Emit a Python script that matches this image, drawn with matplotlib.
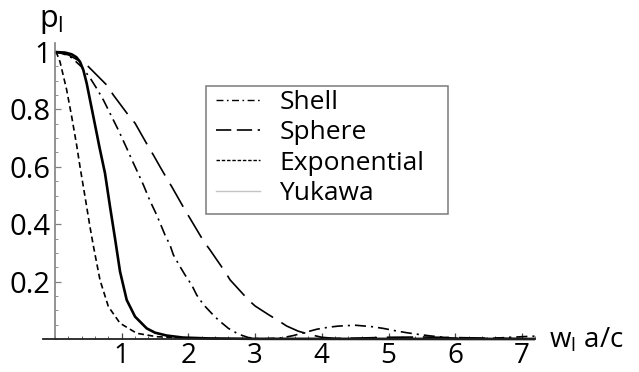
import matplotlib
matplotlib.use("Agg")
import matplotlib.pyplot as plt
from matplotlib.lines import Line2D
from matplotlib.patches import Rectangle
from matplotlib.ticker import FixedLocator, MultipleLocator

plt.rcParams['font.family'] = ['Open Sans', 'DejaVu Sans']
plt.rcParams['mathtext.fontset'] = 'custom'
plt.rcParams['mathtext.rm'] = 'Open Sans'
plt.rcParams['mathtext.it'] = 'Open Sans'
plt.rcParams['lines.scale_dashes'] = False

# ---- data ----
shell_x = [0, 0.1, 0.25, 0.4, 0.525, 0.625, 0.725, 0.875, 0.95, 1.075, 1.165, 1.235, 1.325,
           1.425, 1.525, 1.575, 1.65, 1.725, 1.775, 1.875, 1.95, 2.05, 2.125, 2.225, 2.35,
           2.45, 2.6, 2.75, 2.9, 3.1, 3.4, 3.575, 3.925, 4.1, 4.25, 4.5, 4.75, 4.92, 5.12,
           5.27, 5.42, 5.62, 5.9, 6.3, 6.6, 7.0, 7.2]
shell_y = [1.0, 0.997, 0.98, 0.948, 0.91, 0.873, 0.833, 0.763, 0.728, 0.665, 0.618, 0.583, 0.537,
           0.481, 0.432, 0.404, 0.362, 0.327, 0.293, 0.252, 0.223, 0.188, 0.153, 0.12, 0.089,
           0.066, 0.037, 0.017, 0.005, 0.0, 0.004, 0.012, 0.034, 0.041, 0.045, 0.048, 0.043, 0.037, 0.028,
           0.022, 0.017, 0.011, 0.004, 0.0, 0.003, 0.008, 0.010]

sphere_x = [0, 0.2, 0.475, 0.775, 0.875, 1.1, 1.2, 1.4, 1.475, 1.575, 1.675, 1.75, 1.95, 2.025,
            2.225, 2.325, 2.55, 2.625, 2.9, 3.0, 3.2, 3.375, 3.475, 3.65, 3.85, 4.0, 4.2, 4.5,
            5.0, 5.5, 6.0, 6.5, 7.0, 7.2]
sphere_y = [1.0, 0.99, 0.955, 0.885, 0.85, 0.78, 0.752, 0.67, 0.641, 0.6, 0.56, 0.531, 0.449, 0.42,
            0.342, 0.31, 0.234, 0.206, 0.136, 0.115, 0.085, 0.06, 0.045, 0.027, 0.014, 0.006, 0.002, 0.003,
            0.006, 0.007, 0.005, 0.003, 0.001, 0.001]

expo_x = [0, 0.03, 0.075, 0.175, 0.25, 0.325, 0.375, 0.45, 0.525, 0.575, 0.675, 0.8, 0.975,
          1.225, 1.525, 2.0, 2.5, 3.0, 7.2]
expo_y = [1.0, 0.993, 0.966, 0.868, 0.775, 0.675, 0.6, 0.496, 0.39, 0.325, 0.205, 0.113, 0.055,
          0.02, 0.008, 0.003, 0.001, 0.0, 0.0]

yuk_x = [0, 0.15, 0.25, 0.32, 0.375, 0.425, 0.475, 0.525, 0.575, 0.625, 0.665, 0.75, 0.825, 0.9, 0.975,
         1.075, 1.2, 1.375, 1.5, 1.675, 1.92, 2.3, 3.0, 7.2]
yuk_y = [1.0, 0.998, 0.992, 0.982, 0.966, 0.937, 0.891, 0.833, 0.775, 0.717, 0.67, 0.577, 0.461, 0.35, 0.235,
         0.136, 0.078, 0.037, 0.022, 0.012, 0.005, 0.002, 0.0005, 0.0]

labels = ["Shell", "Sphere", "Exponential", "Yukawa"]
x_ticks = [1, 2, 3, 4, 5, 6, 7]
y_ticks = [0.2, 0.4, 0.6, 0.8, 1.0]
y_ticklabels = ["0.2", "0.4", "0.6", "0.8", "1"]

# ---- figure ----
W, H = 639, 372
fig = plt.figure(figsize=(W / 100, H / 100), dpi=100)
xlim = (-0.18, 7.2)
ylim = (-0.03, 1.031)
left_px = 55 + xlim[0] * 66.7
right_px = 55 + xlim[1] * 66.7
bot_px = 339 - ylim[0] * 287
top_px = 339 - ylim[1] * 287
ax = fig.add_axes([left_px / W, 1 - bot_px / H, (right_px - left_px) / W, (bot_px - top_px) / H])
ax.set_xlim(*xlim)
ax.set_ylim(*ylim)

shell_ls = (0, (8, 3.6, 1.5, 3.6))
sphere_ls = (0, (19, 7))
expo_ls = (0, (4.2, 2.6))

ax.plot(shell_x, shell_y, color='black', lw=1.2, linestyle=shell_ls)
ax.plot(sphere_x, sphere_y, color='black', lw=1.2, linestyle=sphere_ls)
ax.plot(expo_x, expo_y, color='black', lw=1.2, linestyle=expo_ls)
ax.plot(yuk_x, yuk_y, color='black', lw=1.9, solid_capstyle='butt')

for s in ['top', 'right']:
    ax.spines[s].set_visible(False)
ax.spines['left'].set_position(('data', 0))
ax.spines['bottom'].set_position(('data', 0))
ax.spines['left'].set_color('#808080')
ax.spines['left'].set_linewidth(1.2)
ax.spines['left'].set_bounds(0, ylim[1])
ax.spines['bottom'].set_color('#222222')
ax.spines['bottom'].set_linewidth(1.3)

ax.xaxis.set_major_locator(FixedLocator(x_ticks))
ax.xaxis.set_minor_locator(MultipleLocator(0.2))
ax.yaxis.set_major_locator(FixedLocator(y_ticks))
ax.set_yticklabels(y_ticklabels)
ax.yaxis.set_minor_locator(MultipleLocator(0.05))
ax.tick_params(axis='x', which='major', direction='in', length=4, width=0.9, color='#444444',
               labelsize=20, pad=2)
ax.tick_params(axis='x', which='minor', direction='in', length=2.2, width=0.7, color='#666666')
ax.tick_params(axis='y', which='major', direction='in', length=4, width=0.9, color='#808080',
               labelsize=21, pad=3)
ax.tick_params(axis='y', which='minor', direction='in', length=2.2, width=0.7, color='#909090')

# axis labels
fig.text(39 / W, 1 - 27 / H, r'$\mathregular{p_l}$', fontsize=22, ha='left', va='baseline')
fig.text(549 / W, 1 - 347 / H, r'$\mathregular{w_l}$ a/c', fontsize=20, ha='left', va='baseline')

# legend frame
fig.patches.append(Rectangle((206 / W, 1 - 214 / H), (448 - 206) / W, (214 - 86) / H,
                             transform=fig.transFigure, facecolor='white', edgecolor='#7a7a7a',
                             linewidth=1.1, zorder=3))
handles = [Line2D([], [], color='black', lw=1.0, linestyle=(0, (5, 2.5, 1.2, 2.5))),
           Line2D([], [], color='black', lw=1.2, linestyle=(0, (11, 4))),
           Line2D([], [], color='black', lw=1.0, linestyle=(0, (2.5, 1.3))),
           Line2D([], [], color='#c4c4c4', lw=1.0)]
leg = fig.legend(handles, labels, loc='upper left', bbox_to_anchor=(216 / W, 1 - 90 / H),
                 bbox_transform=fig.transFigure, frameon=False, fontsize=19,
                 handlelength=1.65, handletextpad=0.75, labelspacing=0.2,
                 borderpad=0, borderaxespad=0)
leg.set_zorder(4)

fig.savefig('out.png', dpi=100)
